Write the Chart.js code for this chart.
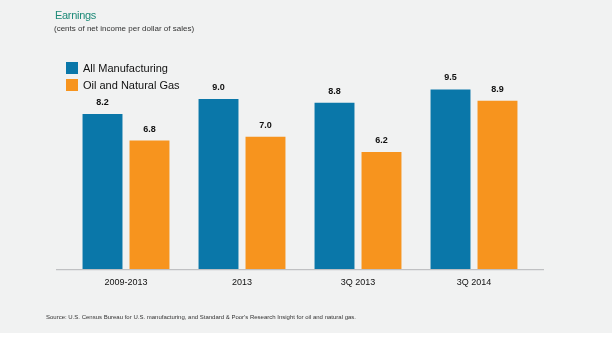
<!DOCTYPE html>
<html>
<head>
<meta charset="utf-8">
<script src="https://cdn.jsdelivr.net/npm/chart.js@4/dist/chart.umd.min.js"></script>
<style>
  html, body { margin: 0; padding: 0; background: #ffffff; }
  #panel { position: relative; width: 612px; height: 333px; background: #f1f2f2; overflow: hidden; font-family: "Liberation Sans", Arial, sans-serif; }
  #chart { position: absolute; left: 0; top: 0; }
  .title { position: absolute; left: 55px; top: 9px; font-size: 11px; color: #1d8a78; letter-spacing: -0.3px; }
  .subtitle { position: absolute; left: 54px; top: 24px; font-size: 8px; color: #333; }
  .legend { position: absolute; left: 66px; top: 59px; font-size: 11px; color: #111; }
  .legend div { height: 17px; display: flex; align-items: center; }
  .legend span.sw { display: inline-block; width: 12px; height: 12px; margin-right: 5px; }
  .source { position: absolute; left: 46px; top: 314px; font-size: 6px; color: #333; }
</style>
</head>
<body>
<div id="panel">
  <canvas id="chart" width="612" height="333"></canvas>
  <div class="title">Earnings</div>
  <div class="subtitle">(cents of net income per dollar of sales)</div>
  <div class="legend" id="legend"></div>
  <div class="source">Source: U.S. Census Bureau for U.S. manufacturing, and Standard &amp; Poor's Research Insight for oil and natural gas.</div>
</div>
<script>
const categories = ["2009-2013", "2013", "3Q 2013", "3Q 2014"];
const allManufacturing = [8.2, 9.0, 8.8, 9.5];
const oilAndGas = [6.8, 7.0, 6.2, 8.9];
const seriesNames = ["All Manufacturing", "Oil and Natural Gas"];
const seriesColors = ["#0a77a9", "#f7941e"];

// HTML legend
const legendEl = document.getElementById("legend");
seriesNames.forEach((name, i) => {
  const row = document.createElement("div");
  row.innerHTML = '<span class="sw" style="background:' + seriesColors[i] + '"></span>' + name;
  legendEl.appendChild(row);
});

// Value labels above each bar
const valueLabels = {
  id: "valueLabels",
  afterDatasetsDraw(chart) {
    const ctx = chart.ctx;
    ctx.save();
    ctx.font = "bold 9px 'Liberation Sans', Arial, sans-serif";
    ctx.fillStyle = "#111";
    ctx.textAlign = "center";
    ctx.textBaseline = "bottom";
    chart.data.datasets.forEach((ds, di) => {
      chart.getDatasetMeta(di).data.forEach((bar, i) => {
        ctx.fillText(ds.data[i].toFixed(1), bar.x, bar.y - 7);
      });
    });
    ctx.restore();
  }
};

// Baseline rule extending a little past the plot area
const baseLine = {
  id: "baseLine",
  afterDatasetsDraw(chart) {
    const ctx = chart.ctx;
    const y = chart.scales.y.getPixelForValue(0) + 0.5;
    ctx.save();
    ctx.strokeStyle = "#b4b6b8";
    ctx.lineWidth = 1;
    ctx.beginPath();
    ctx.moveTo(56, y);
    ctx.lineTo(544, y);
    ctx.stroke();
    ctx.restore();
  }
};

new Chart(document.getElementById("chart"), {
  type: "bar",
  data: {
    labels: categories,
    datasets: [
      { label: seriesNames[0], data: allManufacturing, backgroundColor: seriesColors[0] },
      { label: seriesNames[1], data: oilAndGas, backgroundColor: seriesColors[1] }
    ]
  },
  options: {
    responsive: false,
    animation: false,
    devicePixelRatio: 1,
    categoryPercentage: 0.81,
    barPercentage: 0.85,
    layout: { padding: { left: 68, right: 80, top: 80, bottom: 37 } },
    plugins: { legend: { display: false }, tooltip: { enabled: false } },
    scales: {
      x: {
        grid: { display: false, drawTicks: false },
        border: { display: false },
        ticks: { color: "#111", font: { size: 9, family: "'Liberation Sans', Arial, sans-serif" }, padding: 8 }
      },
      y: {
        display: false,
        min: 0,
        max: 10
      }
    }
  },
  plugins: [valueLabels, baseLine]
});
</script>
</body>
</html>
